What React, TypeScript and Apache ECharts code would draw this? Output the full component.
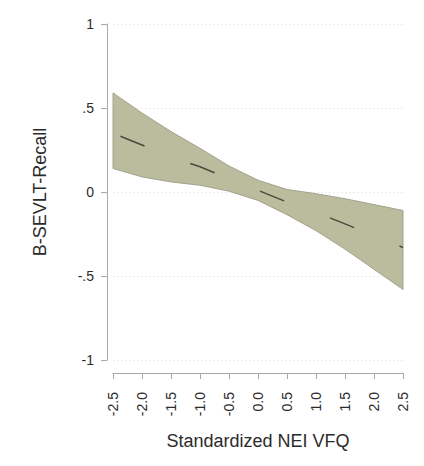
import React, { useEffect, useRef } from "react";
import * as echarts from "echarts";

const xValues = [-2.5, -2.0, -1.5, -1.0, -0.5, 0.0, 0.5, 1.0, 1.5, 2.0, 2.5];
const fitValues = [0.35, 0.28, 0.21, 0.15, 0.08, 0.01, -0.06, -0.12, -0.19, -0.26, -0.33];
const upperValues = [0.59, 0.47, 0.36, 0.26, 0.155, 0.07, 0.015, -0.01, -0.04, -0.075, -0.11];
const lowerValues = [0.14, 0.09, 0.06, 0.04, 0.005, -0.05, -0.135, -0.23, -0.34, -0.46, -0.58];
const yTickLabels: Record<string, string> = { "1": "1", "0.5": ".5", "0": "0", "-0.5": "-.5", "-1": "-1" };

const xTitle = "Standardized NEI VFQ";
const yTitle = "B-SEVLT-Recall";

export default function App() {
  const ref = useRef<HTMLDivElement>(null);
  useEffect(() => {
    if (!ref.current) return;
    const chart = echarts.init(ref.current, undefined, { renderer: "svg" });
    const font = "Liberation Sans, Arial, sans-serif";
    const axisGray = "#a9a9a9";
    const textColor = "#2b2b2b";
    chart.setOption({
      animation: false,
      backgroundColor: "#ffffff",
      grid: { left: 113, top: 24, width: 290, height: 336, containLabel: false },
      xAxis: {
        type: "value",
        min: -2.5,
        max: 2.5,
        interval: 0.5,
        offset: 13,
        name: xTitle,
        nameLocation: "middle",
        nameGap: 59,
        nameTextStyle: { fontFamily: font, fontSize: 18, color: textColor },
        axisLine: { show: true, onZero: false, lineStyle: { color: axisGray, width: 1 } },
        axisTick: { show: true, length: 6, lineStyle: { color: axisGray } },
        axisLabel: {
          rotate: 90,
          margin: 19,
          fontFamily: font,
          fontSize: 14,
          color: textColor,
          formatter: (v: number) => v.toFixed(1),
        },
        splitLine: { show: false },
      },
      yAxis: {
        type: "value",
        min: -1,
        max: 1,
        interval: 0.5,
        offset: 6,
        name: yTitle,
        nameLocation: "middle",
        nameGap: 58,
        nameTextStyle: { fontFamily: font, fontSize: 18, color: textColor },
        axisLine: { show: true, onZero: false, lineStyle: { color: axisGray, width: 1 } },
        axisTick: { show: true, length: 6, lineStyle: { color: axisGray } },
        axisLabel: {
          margin: 13,
          fontFamily: font,
          fontSize: 14,
          color: textColor,
          formatter: (v: number) => yTickLabels[String(v)] ?? String(v),
        },
        splitLine: { show: true, lineStyle: { color: "#ececec", width: 1, type: [2, 2] } },
      },
      series: [
        {
          type: "custom",
          name: "ci",
          data: [[xValues[0], upperValues[0]]],
          renderItem: (_params: any, api: any) => {
            const top = xValues.map((x, i) => api.coord([x, upperValues[i]]));
            const bottom = xValues.map((x, i) => api.coord([x, lowerValues[i]])).reverse();
            return {
              type: "polygon",
              shape: { points: top.concat(bottom), smooth: 0 },
              style: { fill: "#bbbc9d", stroke: "#a2a38d", lineWidth: 1 },
            };
          },
          z: 2,
        },
        {
          type: "line",
          name: "fit",
          data: xValues.map((x, i) => [x, fitValues[i]]),
          symbol: "none",
          lineStyle: { color: "#4a4a40", width: 1.5, type: [26, 49], dashOffset: 67 },
          z: 3,
        },
      ],
    });
    return () => chart.dispose();
  }, []);
  return (
    <div
      ref={ref}
      style={{ position: "fixed", left: 0, top: 0, width: 424, height: 466, background: "#fff" }}
    />
  );
}
